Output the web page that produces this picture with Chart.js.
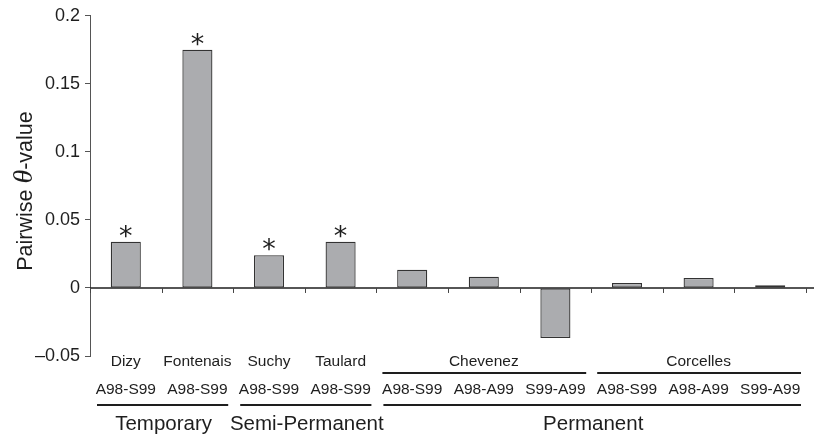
<!DOCTYPE html>
<html>
<head>
<meta charset="utf-8">
<script src="https://cdn.jsdelivr.net/npm/chart.js@4"></script>
<style>
  html, body { margin: 0; padding: 0; background: #fff; }
  #wrap { width: 814px; height: 435px; }
</style>
</head>
<body>
<div id="wrap"><canvas id="thetaChart" width="814" height="435"></canvas></div>
<script>
// pairwise theta per site/period comparison
const sites = ['Dizy', 'Fontenais', 'Suchy', 'Taulard', 'Chevenez', 'Chevenez', 'Chevenez', 'Corcelles', 'Corcelles', 'Corcelles'];
const periods = ['A98-S99', 'A98-S99', 'A98-S99', 'A98-S99', 'A98-S99', 'A98-A99', 'S99-A99', 'A98-S99', 'A98-A99', 'S99-A99'];
const habitats = ['Temporary', 'Temporary', 'Semi-Permanent', 'Semi-Permanent', 'Permanent', 'Permanent', 'Permanent', 'Permanent', 'Permanent', 'Permanent'];
const thetaValues = [0.034, 0.175, 0.024, 0.034, 0.0134, 0.0083, -0.0368, 0.0037, 0.0073, 0.0019];
const significant = [true, true, true, true, false, false, false, false, false, false];
const yTickValues = [-0.05, 0, 0.05, 0.1, 0.15, 0.2];
const yTickLabels = ['\u20130.05', '0', '0.05', '0.1', '0.15', '0.2'];

const FONT = '"Liberation Sans", Arial, Helvetica, sans-serif';
const INK = '#1e1e1e';

// group consecutive equal entries -> [{name, from, to}]
function runs(arr) {
  const out = [];
  arr.forEach((v, i) => {
    const last = out[out.length - 1];
    if (last && last.name === v) last.to = i;
    else out.push({ name: v, from: i, to: i });
  });
  return out;
}

const labelsPlugin = {
  id: 'groupLabels',
  afterDraw(chart) {
    const ctx = chart.ctx;
    const x = chart.scales.x;
    const y = chart.scales.y;
    const step = x.getPixelForValue(1) - x.getPixelForValue(0);
    const y0 = y.getPixelForValue(0);
    ctx.save();

    // zero line runs to the right edge
    ctx.strokeStyle = INK;
    ctx.lineWidth = 1.5;
    ctx.beginPath();
    ctx.moveTo(chart.chartArea.left, y0);
    ctx.lineTo(chart.width, y0);
    ctx.stroke();

    // category tick marks under the zero line
    ctx.strokeStyle = '#444';
    ctx.lineWidth = 1;
    for (let i = 0; i <= thetaValues.length; i++) {
      const px = Math.round(x.getPixelForValue(0) - step / 2 + i * step) + 0.5;
      ctx.beginPath();
      ctx.moveTo(px, y0);
      ctx.lineTo(px, y0 + 5);
      ctx.stroke();
    }

    // asterisks for significant values
    ctx.fillStyle = INK;
    ctx.textAlign = 'center';
    ctx.textBaseline = 'alphabetic';
    ctx.font = '27px "DejaVu Sans", sans-serif';
    const m = ctx.measureText('*');
    const meta = chart.getDatasetMeta(0);
    significant.forEach((s, i) => {
      if (!s) return;
      const bar = meta.data[i];
      ctx.fillText('*', bar.x, bar.y - 4 - m.actualBoundingBoxDescent);
    });

    // site row
    ctx.font = '15.5px ' + FONT;
    ctx.textBaseline = 'middle';
    runs(sites).forEach(r => {
      const left = x.getPixelForValue(r.from) - step / 2;
      const right = x.getPixelForValue(r.to) + step / 2;
      ctx.fillText(r.name, (left + right) / 2, 362);
      if (r.to > r.from) {
        ctx.lineWidth = 2;
        ctx.strokeStyle = INK;
        ctx.beginPath();
        ctx.moveTo(left + 6, 373);
        ctx.lineTo(right - 5, 373);
        ctx.stroke();
      }
    });

    // period row
    periods.forEach((p, i) => {
      ctx.fillText(p, x.getPixelForValue(i), 390);
    });

    // habitat row
    ctx.font = '20.5px ' + FONT;
    runs(habitats).forEach(r => {
      const left = x.getPixelForValue(r.from) - step / 2;
      const right = x.getPixelForValue(r.to) + step / 2;
      ctx.lineWidth = 2;
      ctx.strokeStyle = INK;
      ctx.beginPath();
      ctx.moveTo(left + 7, 405);
      ctx.lineTo(right - 5, 405);
      ctx.stroke();
      ctx.fillText(r.name, (left + right) / 2 + 2, 424);
    });

    // y title with italic theta
    const parts = [
      { t: 'Pairwise ', f: '21.5px ' + FONT },
      { t: '\u03B8', f: 'italic 28px "Liberation Serif", "Times New Roman", serif' },
      { t: '-value', f: '21.5px ' + FONT }
    ];
    let total = 0;
    parts.forEach(p => { ctx.font = p.f; p.w = ctx.measureText(p.t).width; total += p.w; });
    ctx.translate(32, 191);
    ctx.rotate(-Math.PI / 2);
    ctx.textAlign = 'left';
    ctx.textBaseline = 'alphabetic';
    let cx = -total / 2;
    parts.forEach(p => {
      ctx.font = p.f;
      ctx.fillText(p.t, cx, 0);
      cx += p.w;
    });
    ctx.restore();
  }
};

new Chart(document.getElementById('thetaChart'), {
  type: 'bar',
  data: {
    labels: periods.map((p, i) => sites[i] + ' ' + p),
    datasets: [{
      data: thetaValues,
      backgroundColor: '#abacaf',
      borderColor: '#333',
      borderWidth: 1.3,
      borderSkipped: false,
      barPercentage: 0.42,
      categoryPercentage: 1
    }]
  },
  options: {
    responsive: false,
    animation: false,
    layout: { padding: { top: 14, right: 8, bottom: 79, left: 0 } },
    plugins: { legend: { display: false }, tooltip: { enabled: false } },
    scales: {
      x: { display: false },
      y: {
        min: -0.05,
        max: 0.2,
        afterBuildTicks: s => { s.ticks = yTickValues.map(v => ({ value: v })); },
        afterFit: s => { s.width = 90; },
        ticks: {
          color: INK,
          font: { family: FONT, size: 18 },
          padding: 5,
          callback: (v, i) => yTickLabels[i]
        },
        grid: {
          drawOnChartArea: false,
          tickColor: '#555',
          tickLength: 5
        },
        border: { display: true, color: '#555', width: 1 }
      }
    }
  },
  plugins: [labelsPlugin]
});
</script>
</body>
</html>
